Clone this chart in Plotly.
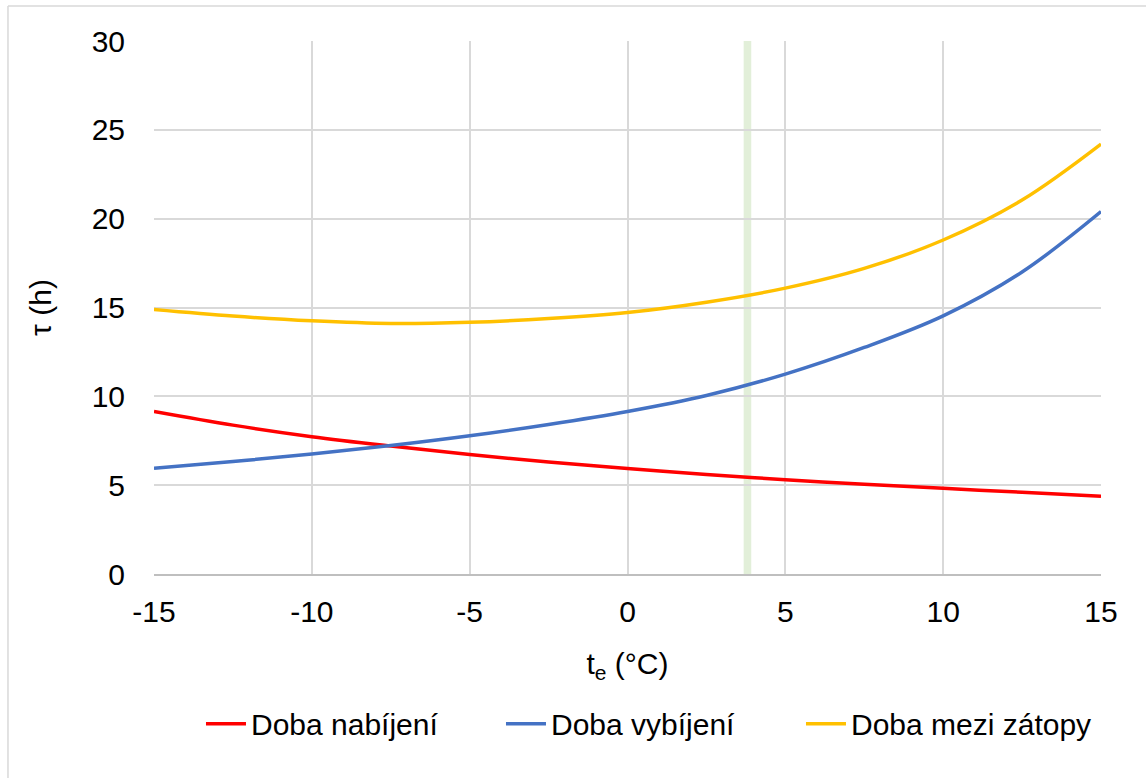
import plotly.graph_objects as go

# ---- data ----
te = [-15, -12.5, -10, -7.5, -5, -2.5, 0, 2.5, 5, 7.5, 10, 12.5, 15]
doba_nabijeni = [9.15, 8.38, 7.73, 7.20, 6.72, 6.30, 5.94, 5.60, 5.31, 5.05, 4.82, 4.60, 4.38]
doba_vybijeni = [5.95, 6.33, 6.75, 7.23, 7.78, 8.42, 9.15, 10.05, 11.25, 12.75, 14.53, 17.00, 20.40]
doba_mezi_zatopy = [14.89, 14.52, 14.25, 14.10, 14.17, 14.38, 14.72, 15.30, 16.09, 17.20, 18.80, 21.05, 24.20]
marker_te = 3.8          # highlighted outdoor temperature (green band)
marker_halfwidth = 0.12

names = ["Doba nabíjení", "Doba vybíjení", "Doba mezi zátopy"]
colors = ["#ff0000", "#4472c4", "#ffc000"]
series = [doba_nabijeni, doba_vybijeni, doba_mezi_zatopy]

x_ticks = [-15, -10, -5, 0, 5, 10, 15]
y_ticks = [0, 5, 10, 15, 20, 25, 30]

FONT = "Liberation Sans, Arial, sans-serif"

fig = go.Figure()
for name, col, ys in zip(names, colors, series):
    fig.add_trace(go.Scatter(
        x=te, y=ys, mode="lines", name=name,
        line=dict(color=col, width=3.5, shape="spline", smoothing=1.0),
    ))

fig.add_vrect(x0=marker_te - marker_halfwidth, x1=marker_te + marker_halfwidth,
              fillcolor="#e2efd9", line_width=0, layer="below")

# chart-area border (top and left visible)
fig.add_shape(type="line", xref="paper", yref="paper",
              x0=-0.1542, x1=1.06, y0=1.0657, y1=1.0657,
              line=dict(color="#d9d9d9", width=1.5))
fig.add_shape(type="line", xref="paper", yref="paper",
              x0=-0.1542, x1=-0.1542, y0=1.0657, y1=-0.40,
              line=dict(color="#d9d9d9", width=1.5))

fig.update_layout(
    width=1146, height=778,
    margin=dict(l=154, r=45, t=41, b=204),
    paper_bgcolor="white", plot_bgcolor="white",
    font=dict(family=FONT, size=30, color="#000000"),
    showlegend=True,
    legend=dict(orientation="h", x=0.5248, xanchor="center", y=-0.281, yanchor="middle",
                font=dict(size=30, color="#000000"), itemwidth=40,
                entrywidth=245, entrywidthmode="pixels",
                bgcolor="rgba(0,0,0,0)"),
    xaxis=dict(
        range=[-15, 15], tickvals=x_ticks, ticktext=[str(v) for v in x_ticks],
        showgrid=True, gridcolor="#d9d9d9", gridwidth=1.5,
        showline=True, linecolor="#bfbfbf", linewidth=1.5, mirror=False,
        zeroline=False, ticks="", ticklabelstandoff=10,
        title=dict(text="t<sub>e</sub> (°C)", font=dict(size=30), standoff=26),
        tickfont=dict(size=30),
    ),
    yaxis=dict(
        range=[0, 30], tickvals=y_ticks,
        showgrid=True, gridcolor="#d9d9d9", gridwidth=1.5,
        showline=False, zeroline=False, ticks="", ticklabelstandoff=28,
        title=dict(text="τ (h)", font=dict(size=30), standoff=31),
        tickfont=dict(size=30),
    ),
)

fig.write_html("out.html", config={"displayModeBar": False},
               post_script="document.body.style.margin='0';")
